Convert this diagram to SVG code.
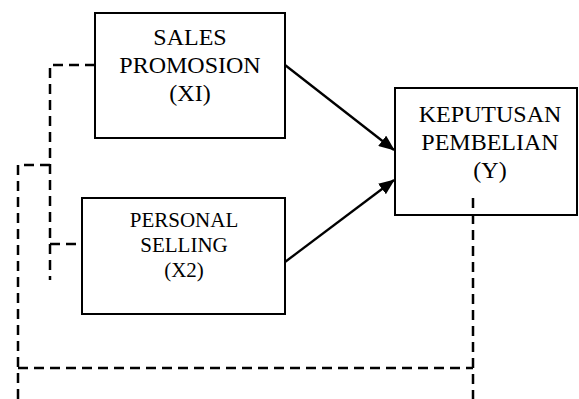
<svg xmlns="http://www.w3.org/2000/svg" width="579" height="399" viewBox="0 0 579 399">
  <style>
    .box { fill: none; stroke: #000; stroke-width: 2; }
    .lbl { font-family: "Liberation Serif", "Times New Roman", serif; fill: #000; text-anchor: middle; }
    .big { font-size: 24px; }
    .small { font-size: 21px; }
    .arrow { fill: none; stroke: #000; stroke-width: 2.3; }
    .dash { fill: none; stroke: #000; stroke-width: 2.5; stroke-dasharray: 10 6; }
  </style>
  <defs>
    <marker id="head" markerWidth="16" markerHeight="13" refX="15" refY="6.5" orient="auto" markerUnits="userSpaceOnUse">
      <path d="M0,0 L16,6.5 L0,13 Z" fill="#000"/>
    </marker>
  </defs>
  <rect width="579" height="399" fill="#fff"/>

  <g id="sales-promotion">
    <rect class="box" x="95" y="13" width="190" height="125"/>
    <text class="lbl big" x="190" y="45">SALES</text>
    <text class="lbl big" x="190" y="73">PROMOSION</text>
    <text class="lbl big" x="190" y="101">(XI)</text>
  </g>

  <g id="personal-selling">
    <rect class="box" x="82" y="198" width="203" height="116"/>
    <text class="lbl small" x="184" y="227">PERSONAL</text>
    <text class="lbl small" x="184" y="252">SELLING</text>
    <text class="lbl small" x="184" y="277">(X2)</text>
  </g>

  <g id="keputusan-pembelian">
    <rect class="box" x="395" y="88" width="182" height="127"/>
    <text class="lbl big" x="490" y="122">KEPUTUSAN</text>
    <text class="lbl big" x="490" y="150">PEMBELIAN</text>
    <text class="lbl big" x="490" y="178">(Y)</text>
  </g>

  <g id="connectors">
    <path class="arrow" d="M285,65 L394,150" marker-end="url(#head)"/>
    <path class="arrow" d="M285,262 L394,180" marker-end="url(#head)"/>
    <path class="dash" d="M95,65 H50 V280"/>
    <path class="dash" d="M50,244 H82"/>
    <path class="dash" d="M50,165 H18 V399"/>
    <path class="dash" d="M18,368 H473"/>
    <path class="dash" d="M473,198 V399"/>
  </g>
</svg>
